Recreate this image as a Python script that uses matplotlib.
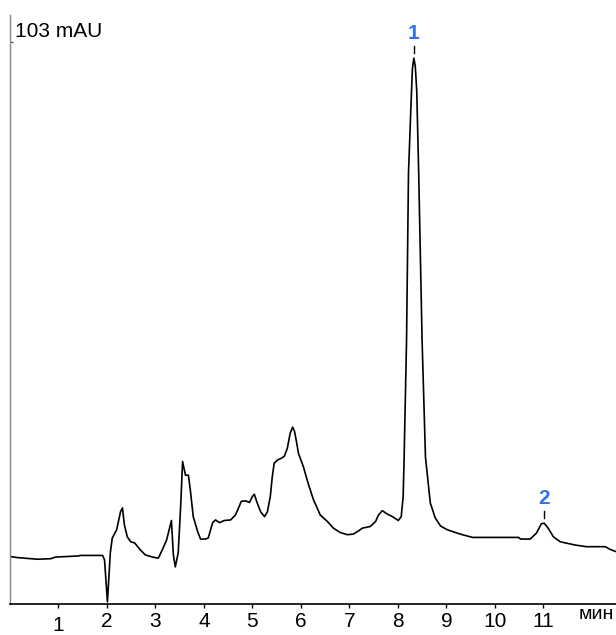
import matplotlib
matplotlib.use("Agg")
import matplotlib.pyplot as plt

plt.rcParams['font.family'] = ['Liberation Sans', 'DejaVu Sans']

# retention time (min) and detector signal (mAU)
time_min = [0.00, 0.16, 0.57, 0.84, 0.94, 1.41, 1.45, 1.91, 1.95, 2.01,
            2.07, 2.11, 2.20, 2.28, 2.32, 2.36, 2.42, 2.49, 2.57, 2.69,
            2.79, 2.94, 3.06, 3.14, 3.23, 3.33, 3.37, 3.41, 3.47, 3.52,
            3.56, 3.62, 3.68, 3.72, 3.78, 3.87, 3.93, 4.03, 4.09, 4.18,
            4.24, 4.32, 4.42, 4.55, 4.65, 4.71, 4.77, 4.86, 4.94, 5.00,
            5.04, 5.10, 5.17, 5.25, 5.31, 5.37, 5.41, 5.45, 5.52, 5.60,
            5.66, 5.72, 5.78, 5.83, 5.87, 5.91, 5.95, 6.05, 6.16, 6.26,
            6.40, 6.55, 6.67, 6.81, 6.96, 7.08, 7.19, 7.27, 7.43, 7.54,
            7.60, 7.68, 7.76, 7.89, 8.01, 8.07, 8.11, 8.13, 8.18, 8.22,
            8.27, 8.30, 8.33, 8.36, 8.39, 8.43, 8.50, 8.57, 8.67, 8.77,
            8.88, 9.02, 9.29, 9.54, 9.91, 10.49, 10.53, 10.73, 10.86, 10.96,
            11.02, 11.10, 11.21, 11.35, 11.66, 11.89, 12.28, 12.38, 12.50]
signal_mau = [8.7, 8.5, 8.2, 8.3, 8.6, 8.8, 8.9, 8.9, 8.1, 0.4,
              9.4, 12.1, 13.6, 16.9, 17.6, 14.5, 12.3, 11.4, 11.2, 9.9,
              9.0, 8.6, 8.4, 9.9, 11.7, 15.3, 9.0, 6.8, 9.4, 17.8,
              26.1, 23.6, 23.6, 20.9, 16.0, 13.3, 11.9, 11.9, 12.1, 14.9,
              15.4, 14.9, 15.3, 15.4, 16.3, 17.5, 18.8, 18.9, 18.6, 19.7,
              20.1, 18.5, 16.9, 16.0, 16.9, 19.7, 23.3, 25.8, 26.4, 26.7,
              27.1, 28.5, 31.3, 32.4, 31.6, 29.7, 27.6, 25.2, 21.8, 19.1,
              16.3, 15.1, 13.9, 13.1, 12.7, 12.8, 13.4, 13.9, 14.2, 15.1,
              16.3, 17.1, 16.6, 16.0, 15.3, 16.0, 19.7, 26.9, 48.4, 79.0,
              91.1, 98.0, 100.0, 98.5, 94.0, 79.0, 48.4, 26.9, 18.5, 15.8,
              14.3, 13.6, 12.8, 12.2, 12.2, 12.2, 11.9, 11.9, 13.0, 14.7,
              14.8, 13.9, 12.3, 11.4, 10.8, 10.5, 10.5, 10.0, 9.6]

peak_names = ['1', '2']
peak_times = [8.33, 11.02]
peak_heights = [100.0, 14.8]

x_ticks = [1, 2, 3, 4, 5, 6, 7, 8, 9, 10, 11]

px = 0.18327  # mAU per pixel, used for small offsets

fig = plt.figure(figsize=(6.16, 6.35), dpi=100)
ax = fig.add_axes([0.0162, 0.0488, 0.9838, 0.9276])

ax.plot(time_min, signal_mau, color='black', linewidth=1.2)

ax.set_xlim(0, 12.5)
ax.set_ylim(0, 107.9)

for sp in ['top', 'right']:
    ax.spines[sp].set_visible(False)
ax.spines['left'].set_color('#888888')
ax.spines['left'].set_linewidth(1.0)
ax.spines['bottom'].set_linewidth(1.2)

ax.set_xticks(x_ticks)
ax.set_xticklabels([str(t) for t in x_ticks])
ax.tick_params(axis='x', direction='out', length=3, width=1, labelsize=15, pad=3)
ax.xaxis.get_major_ticks()[0].set_pad(5.5)

ax.set_yticks([103])
ax.set_yticklabels([''])
ax.tick_params(axis='y', direction='in', length=2, width=1, color='#555555')
ax.text(0.11, 103.8, '103 mAU', fontsize=15, ha='left', va='baseline')

ax.text(12.45, -2.0, 'мин', fontsize=14, ha='right', va='center', clip_on=False)

# peak markers and numbers
for name, t, h in zip(peak_names, peak_times, peak_heights):
    ax.plot([t, t], [h + 5 * px, h + 12 * px], color='black', linewidth=1.0)
    ax.text(t, h + 25 * px, name, color='#3370ee', fontsize=15,
            fontweight='bold', ha='center', va='center')

fig.savefig('out.png', dpi=100)
